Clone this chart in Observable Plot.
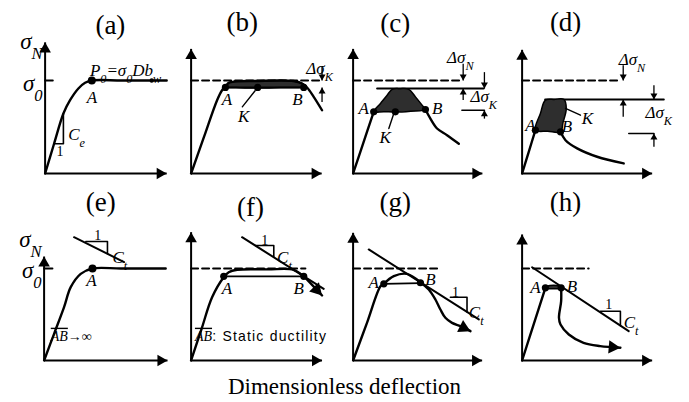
<!DOCTYPE html>
<html><head><meta charset="utf-8">
<script src="https://cdn.jsdelivr.net/npm/d3@7"></script>
<script src="https://cdn.jsdelivr.net/npm/@observablehq/plot@0.6"></script>
<style>
body{margin:0;background:#fff;width:689px;height:402px;position:relative;overflow:hidden}
#caption{position:absolute;left:0;width:689px;top:374px;text-align:center;font:23px "Liberation Serif",serif;line-height:1.15}
</style></head><body>
<div id="caption">Dimensionless deflection</div>
<script>
// ---------- data (x: fraction of axis length, y: sigma/sigma0) ----------
const titles = ["(a)","(b)","(c)","(d)","(e)","(f)","(g)","(h)"];
const titleX = [0.51,0.40,0.33,0.34,0.443,0.464,0.33,0.339];
const titleY = [1.59,1.63,1.61,1.63,1.72,1.667,1.714,1.714];
const yAxisTop = [1.41,1.34,1.34,1.33,1.13,1.395,1.388,1.37];
const xAxisEnd = [0.95,1.02,1.01,1.016,0.964,1.023,1.008,1.016];

// (a)
const aCurve = [[0,0],[0.07,0.32],[0.143,0.645],[0.195,0.788],[0.26,0.914],[0.3125,0.975],[0.365,1],[0.6,1],[0.95,1]];
const aTri = [[0.071,0.32],[0.143,0.32],[0.143,0.645]];
const aTick = [[0,1],[0.06,1]];
const aDots = [[0.365,1]];
const aMark = [[0.833,1]];
const aLabels = [{x:0.365,y:0.82,t:"A"}];
const aNotes = [{x:0.18,y:0.42,t:"C_e"},{x:0.35,y:1.11,t:"P_0=σ_0Db_w"}];
const aOnes = [{x:0.117,y:0.233,t:"1"}];
const aSigma = [{x:-0.02,y:1.416,t:"σ_N"},{x:-0.02,y:0.968,t:"σ_0"}];

// (b)
const bCurve = [[0,0],[0.1,0.39],[0.203,0.788],[0.242,0.896],[0.268,0.93],[0.294,0.975],[0.35,0.99],[0.5,0.995],[0.8,0.995],[0.867,0.968],[0.906,0.925],[0.958,0.824],[1.023,0.68]];
const bShade = [[0.268,0.93],[0.294,0.975],[0.35,0.99],[0.5,0.995],[0.8,0.995],[0.867,0.968],[0.895,0.935],[0.7,0.925],[0.52,0.918],[0.35,0.925]];
const bLower = [[0.268,0.925],[0.88,0.925]];
const bDots = [[0.268,0.925],[0.52,0.925],[0.88,0.925]];
const bDash = [[0,1],[1.0,1]];
const bLeader = [[0.40,0.717],[0.50,0.89]];
const bArrows = [{x:1.023,y1:1.147,y2:1.0},{x:1.023,y1:0.77,y2:0.925}];
const bLabels = [{x:0.28,y:0.79,t:"A"},{x:0.83,y:0.79,t:"B"},{x:0.41,y:0.61,t:"K"}];
const bNotes = [{x:0.9,y:1.13,t:"Δσ_K"}];

// (c)
const cRise = [[0,0],[0.08,0.33],[0.161,0.663]];
const cShade = [[0.161,0.663],[0.214,0.753],[0.266,0.842],[0.305,0.905],[0.37,0.912],[0.435,0.905],[0.487,0.824],[0.539,0.735],[0.565,0.688],[0.45,0.67],[0.33,0.66],[0.24,0.665]];
const cTail = [[0.565,0.688],[0.604,0.59],[0.656,0.484],[0.734,0.412],[0.826,0.32]];
const cDots = [[0.161,0.663],[0.33,0.663],[0.565,0.688]];
const cDash = [[0,1],[0.85,1]];
const cSolid = [[0.1875,0.914],[1.02,0.914]];
const cShort = [[0.85,0.68],[1.026,0.68]];
const cLeader = [[0.279,0.484],[0.318,0.645]];
const cArrows = [{x:0.86,y1:1.18,y2:1},{x:0.86,y1:0.79,y2:0.914},{x:1.026,y1:1.09,y2:0.914},{x:1.026,y1:0.59,y2:0.68}];
const cLabels = [{x:0.083,y:0.70,t:"A"},{x:0.656,y:0.70,t:"B"},{x:0.25,y:0.39,t:"K"}];
const cNotes = [{x:0.734,y:1.247,t:"Δσ_N"},{x:0.917,y:0.824,t:"Δσ_K"}];

// (d)
const dRise = [[0,0],[0.052,0.233],[0.104,0.466]];
const dShade = [[0.104,0.466],[0.143,0.645],[0.182,0.789],[0.25,0.796],[0.326,0.796],[0.345,0.70],[0.32,0.55],[0.30,0.448],[0.2,0.455]];
const dTail = [[0.30,0.448],[0.339,0.358],[0.43,0.27],[0.586,0.18],[0.794,0.108]];
const dDots = [[0.104,0.466],[0.30,0.448]];
const dDash = [[0,1],[0.77,1]];
const dSolid = [[0.18,0.796],[1.107,0.796]];
const dShort = [[0.833,0.43],[1.03,0.43]];
const dLeader = [[0.339,0.70],[0.456,0.627]];
const dArrows = [{x:0.79,y1:1.165,y2:1},{x:0.79,y1:0.61,y2:0.796},{x:1.03,y1:0.95,y2:0.796},{x:1.03,y1:0.287,y2:0.43}];
const dLabels = [{x:0.065,y:0.52,t:"A"},{x:0.35,y:0.51,t:"B"},{x:0.51,y:0.59,t:"K"}];
const dNotes = [{x:0.755,y:1.22,t:"Δσ_N"},{x:0.964,y:0.66,t:"Δσ_K"}];

// (e)
const eCurve = [[0,0],[0.078,0.29],[0.156,0.58],[0.208,0.797],[0.286,0.942],[0.378,1],[0.6,1],[0.95,1]];
const eTick = [[0,1],[0.065,1]];
const eDots = [[0.378,1]];
const eTangent = [[0.234,1.34],[0.625,1.07]];
const eTri = [[0.326,1.293],[0.495,1.293],[0.495,1.16]];
const eLabels = [{x:0.37,y:0.87,t:"A"}];
const eNotes = [{x:0.534,y:1.12,t:"C_t"}];
const eOnes = [{x:0.42,y:1.36,t:"1"}];
const eSigma = [{x:-0.02,y:1.31,t:"σ_N"},{x:-0.02,y:0.975,t:"σ_0"}];
const eText = [{x:0.052,y:0.264,t:"~AB~→∞"}];

// (f)
const fCurve = [[0,0],[0.082,0.344],[0.164,0.688],[0.255,0.906],[0.294,0.96],[0.36,0.986],[0.6,0.99],[0.80,0.986],[0.88,0.913],[0.96,0.8],[1.023,0.707]];
const fLower = [[0.255,0.915],[0.88,0.915]];
const fDots = [[0.255,0.915],[0.88,0.915]];
const fDash = [[0,1],[0.893,1]];
const fTangent = [[0.398,1.34],[1.036,0.779]];
const fTri = [[0.50,1.25],[0.646,1.25],[0.646,1.122]];
const fLabels = [{x:0.28,y:0.78,t:"A"},{x:0.84,y:0.78,t:"B"}];
const fNotes = [{x:0.672,y:1.123,t:"C_t"}];
const fOnes = [{x:0.575,y:1.304,t:"1"}];
const fText = [{x:0.03,y:0.264,t:"~AB~"}];
const fSans = [{x:0.165,y:0.264,t:": Static ductility"}];

// (g)
const gRise = [[0,0],[0.107,0.404],[0.214,0.808],[0.24,0.833]];
const gArc = [[0.24,0.833],[0.318,0.917],[0.42,0.942],[0.526,0.851]];
const gLower = [[0.24,0.833],[0.526,0.84]];
const gTail = [[0.526,0.851],[0.591,0.772],[0.643,0.663],[0.682,0.554],[0.721,0.464],[0.773,0.409],[0.839,0.373],[0.917,0.319]];
const gDots = [[0.24,0.833],[0.526,0.845]];
const gDash = [[0,1],[0.68,1]];
const gTangent = [[0.122,1.207],[0.982,0.446]];
const gTri = [[0.76,0.688],[0.89,0.688],[0.89,0.527]];
const gLabels = [{x:0.16,y:0.844,t:"A"},{x:0.604,y:0.88,t:"B"}];
const gNotes = [{x:0.904,y:0.518,t:"C_t"}];
const gOnes = [{x:0.80,y:0.736,t:"1"}];

// (h)
const hRise = [[0,0],[0.091,0.395],[0.182,0.79]];
const hShade = [[0.182,0.785],[0.2,0.81],[0.29,0.81],[0.305,0.785],[0.24,0.78]];
const hTail = [[0.305,0.79],[0.305,0.645],[0.288,0.464],[0.30,0.391],[0.365,0.283],[0.48,0.192],[0.61,0.156],[0.768,0.138]];
const hDots = [[0.182,0.79],[0.305,0.79]];
const hDash = [[0,1],[0.52,1]];
const hTangent = [[0.078,1.014],[0.833,0.319]];
const hTri = [[0.612,0.536],[0.768,0.536],[0.768,0.379]];
const hLabels = [{x:0.104,y:0.797,t:"A"},{x:0.39,y:0.808,t:"B"}];
const hNotes = [{x:0.794,y:0.41,t:"C_t"}];
const hOnes = [{x:0.677,y:0.609,t:"1"}];

// ---------- layout ----------
const SX = 128;
const layout = [
  {ox:45, oy:173.3, sy:93},{ox:190.7, oy:173.3, sy:93},{ox:352.7, oy:173.3, sy:93},{ox:521.7, oy:173.3, sy:93},
  {ox:43.3, oy:360, sy:92},{ox:190.7, oy:360, sy:92},{ox:352.7, oy:360, sy:92},{ox:521.7, oy:360, sy:92}
];
const XD = [-0.45, 1.4], YD = [-0.15, 2.0];
const SERIF = "Liberation Serif, Times New Roman, serif";

const X = p => p[0], Y = p => p[1];
const curve = (data, o = {}) => Plot.line(data, {x: X, y: Y, curve: "catmull-rom", stroke: "black", strokeWidth: 2.4, strokeLinecap: "round", strokeLinejoin: "round", ...o});
const seg = (data, o = {}) => Plot.line(data, {x: X, y: Y, stroke: "black", strokeWidth: 1.8, ...o});
const dash = data => seg(data, {strokeDasharray: "7,4", strokeWidth: 2});
const shade = data => Plot.line(data, {x: X, y: Y, curve: "catmull-rom-closed", fill: "#2e2e2e", stroke: "black", strokeWidth: 1.5});
const dots = (data, r = 3.6) => Plot.dot(data, {x: X, y: Y, r, fill: "black", stroke: "none"});
const labels = (data, o = {}) => Plot.text(data, {x: "x", y: "y", text: "t", fontFamily: SERIF, fontSize: 17, fontStyle: "italic", fill: "black", lineAnchor: "middle", ...o});
const notes = data => labels(data, {textAnchor: "start"});
const ones = data => labels(data, {fontStyle: "normal", fontSize: 14});
const sigma = data => labels(data, {textAnchor: "end", fontSize: 23});

function axes(i) {
  const r = 4.3;
  return [
    Plot.link([{x1:0,y1:0,x2:0,y2:yAxisTop[i]},{x1:0,y1:0,x2:xAxisEnd[i],y2:0}], {x1:"x1",y1:"y1",x2:"x2",y2:"y2",stroke:"black",strokeWidth:2}),
    Plot.dot([[0, yAxisTop[i]]], {x: X, y: Y, symbol: "triangle", r, fill: "black", stroke: "none", dy: 1.555 * r}),
    Plot.dot([[xAxisEnd[i], 0]], {x: X, y: Y, symbol: "triangle", r, rotate: 90, fill: "black", stroke: "none", dx: -1.555 * r}),
    Plot.text([{x: titleX[i], y: titleY[i], t: titles[i]}], {x:"x",y:"y",text:"t",fontFamily:SERIF,fontSize:27,fill:"black",lineAnchor:"middle"})
  ];
}
function arrows(list) {
  const r = 2.6;
  const down = list.filter(d => d.y2 < d.y1), up = list.filter(d => d.y2 > d.y1);
  return [
    Plot.link(list, {x1:"x",x2:"x",y1:"y1",y2:"y2",stroke:"black",strokeWidth:1.3}),
    Plot.dot(down, {x:"x",y:"y2",symbol:"triangle",rotate:180,r,fill:"black",stroke:"none",dy:-1.555*r}),
    Plot.dot(up, {x:"x",y:"y2",symbol:"triangle",r,fill:"black",stroke:"none",dy:1.555*r})
  ];
}
function head(data, sy, r = 5) {
  const p = data[data.length - 2], q = data[data.length - 1];
  const dxp = (q[0] - p[0]) * SX, dyp = -(q[1] - p[1]) * sy;
  const len = Math.hypot(dxp, dyp), ux = dxp / len, uy = dyp / len;
  const ang = Math.atan2(ux, -uy) * 180 / Math.PI;
  return Plot.dot([q], {x: X, y: Y, symbol: "triangle", r, rotate: ang, fill: "black", stroke: "none", dx: -ux * 1.555 * r, dy: -uy * 1.555 * r});
}

const panels = [
  [curve(aCurve), seg(aTri, {strokeWidth: 1.6}), seg(aTick, {strokeWidth: 2}), dots(aDots, 4), dots(aMark, 2.2),
   labels(aLabels), notes(aNotes), ones(aOnes), sigma(aSigma)],
  [dash(bDash), shade(bShade), curve(bCurve), seg(bLower, {strokeWidth: 2}), dots(bDots), seg(bLeader, {strokeWidth: 1.4}),
   ...arrows(bArrows), labels(bLabels), notes(bNotes)],
  [dash(cDash), seg(cSolid, {strokeWidth: 2}), seg(cShort, {strokeWidth: 1.5}), curve(cRise), shade(cShade), curve(cTail), dots(cDots),
   seg(cLeader, {strokeWidth: 1.4}), ...arrows(cArrows), labels(cLabels), notes(cNotes)],
  [dash(dDash), seg(dSolid, {strokeWidth: 2}), seg(dShort, {strokeWidth: 1.5}), curve(dRise), shade(dShade), curve(dTail), dots(dDots),
   seg(dLeader, {strokeWidth: 1.4}), ...arrows(dArrows), labels(dLabels), notes(dNotes)],
  [curve(eCurve), seg(eTick, {strokeWidth: 2}), dots(eDots, 4), seg(eTangent, {strokeWidth: 2}), seg(eTri, {strokeWidth: 1.6}),
   labels(eLabels), notes(eNotes), ones(eOnes), sigma(eSigma), labels(eText, {textAnchor: "start", fontSize: 14})],
  [dash(fDash), curve(fCurve), seg(fLower, {strokeWidth: 1.8}), dots(fDots), seg(fTangent, {strokeWidth: 2}), seg(fTri, {strokeWidth: 1.6}),
   head(fCurve, 92), labels(fLabels), notes(fNotes), ones(fOnes), labels(fText, {textAnchor: "start", fontSize: 14}),
   Plot.text(fSans, {x:"x",y:"y",text:"t",fontFamily:"Liberation Sans Narrow, Liberation Sans, Arial, sans-serif",fontSize:14,textAnchor:"start",lineAnchor:"middle",fill:"black"})],
  [dash(gDash), curve(gRise), curve(gArc), seg(gLower, {strokeWidth: 1.8}), curve(gTail), head(gTail, 92), dots(gDots),
   seg(gTangent, {strokeWidth: 2}), seg(gTri, {strokeWidth: 1.6}), labels(gLabels), notes(gNotes), ones(gOnes)],
  [dash(hDash), curve(hRise), shade(hShade), curve(hTail), head(hTail, 92), dots(hDots),
   seg(hTangent, {strokeWidth: 2}), seg(hTri, {strokeWidth: 1.6}), labels(hLabels), notes(hNotes), ones(hOnes)]
];

// rich text: "_x" = subscript char, "~...~" = overline
function rich(el) {
  const s = el.textContent;
  if (!/[_~]/.test(s)) return;
  el.textContent = "";
  const NS = "http://www.w3.org/2000/svg";
  let buf = "", over = false;
  const add = (txt, sub) => {
    const t = document.createElementNS(NS, "tspan");
    t.textContent = txt;
    if (over) t.style.textDecoration = "overline";
    if (sub) { t.setAttribute("baseline-shift", "sub"); t.style.fontSize = "0.72em"; }
    el.appendChild(t);
  };
  const flush = () => { if (buf) { add(buf, false); buf = ""; } };
  for (let i = 0; i < s.length; i++) {
    const c = s[i];
    if (c === "_") { flush(); add(s[i + 1], true); i++; }
    else if (c === "~") { flush(); over = !over; }
    else buf += c;
  }
  flush();
}

panels.forEach((marks, i) => {
  const {ox, oy, sy} = layout[i];
  const w = (XD[1] - XD[0]) * SX, h = (YD[1] - YD[0]) * sy;
  const svg = Plot.plot({
    width: w, height: h, margin: 0,
    x: {domain: XD, axis: null}, y: {domain: YD, axis: null},
    style: {background: "transparent", overflow: "visible"},
    marks: [...axes(i), ...marks]
  });
  svg.style.position = "absolute";
  svg.style.left = (ox + XD[0] * SX) + "px";
  svg.style.top = (oy - YD[1] * sy) + "px";
  svg.querySelectorAll("text").forEach(rich);
  svg.querySelectorAll("text").forEach(t => { if (t.textContent.includes("Static")) t.style.letterSpacing = "1.2px"; });
  document.body.appendChild(svg);
});
</script>
</body></html>
